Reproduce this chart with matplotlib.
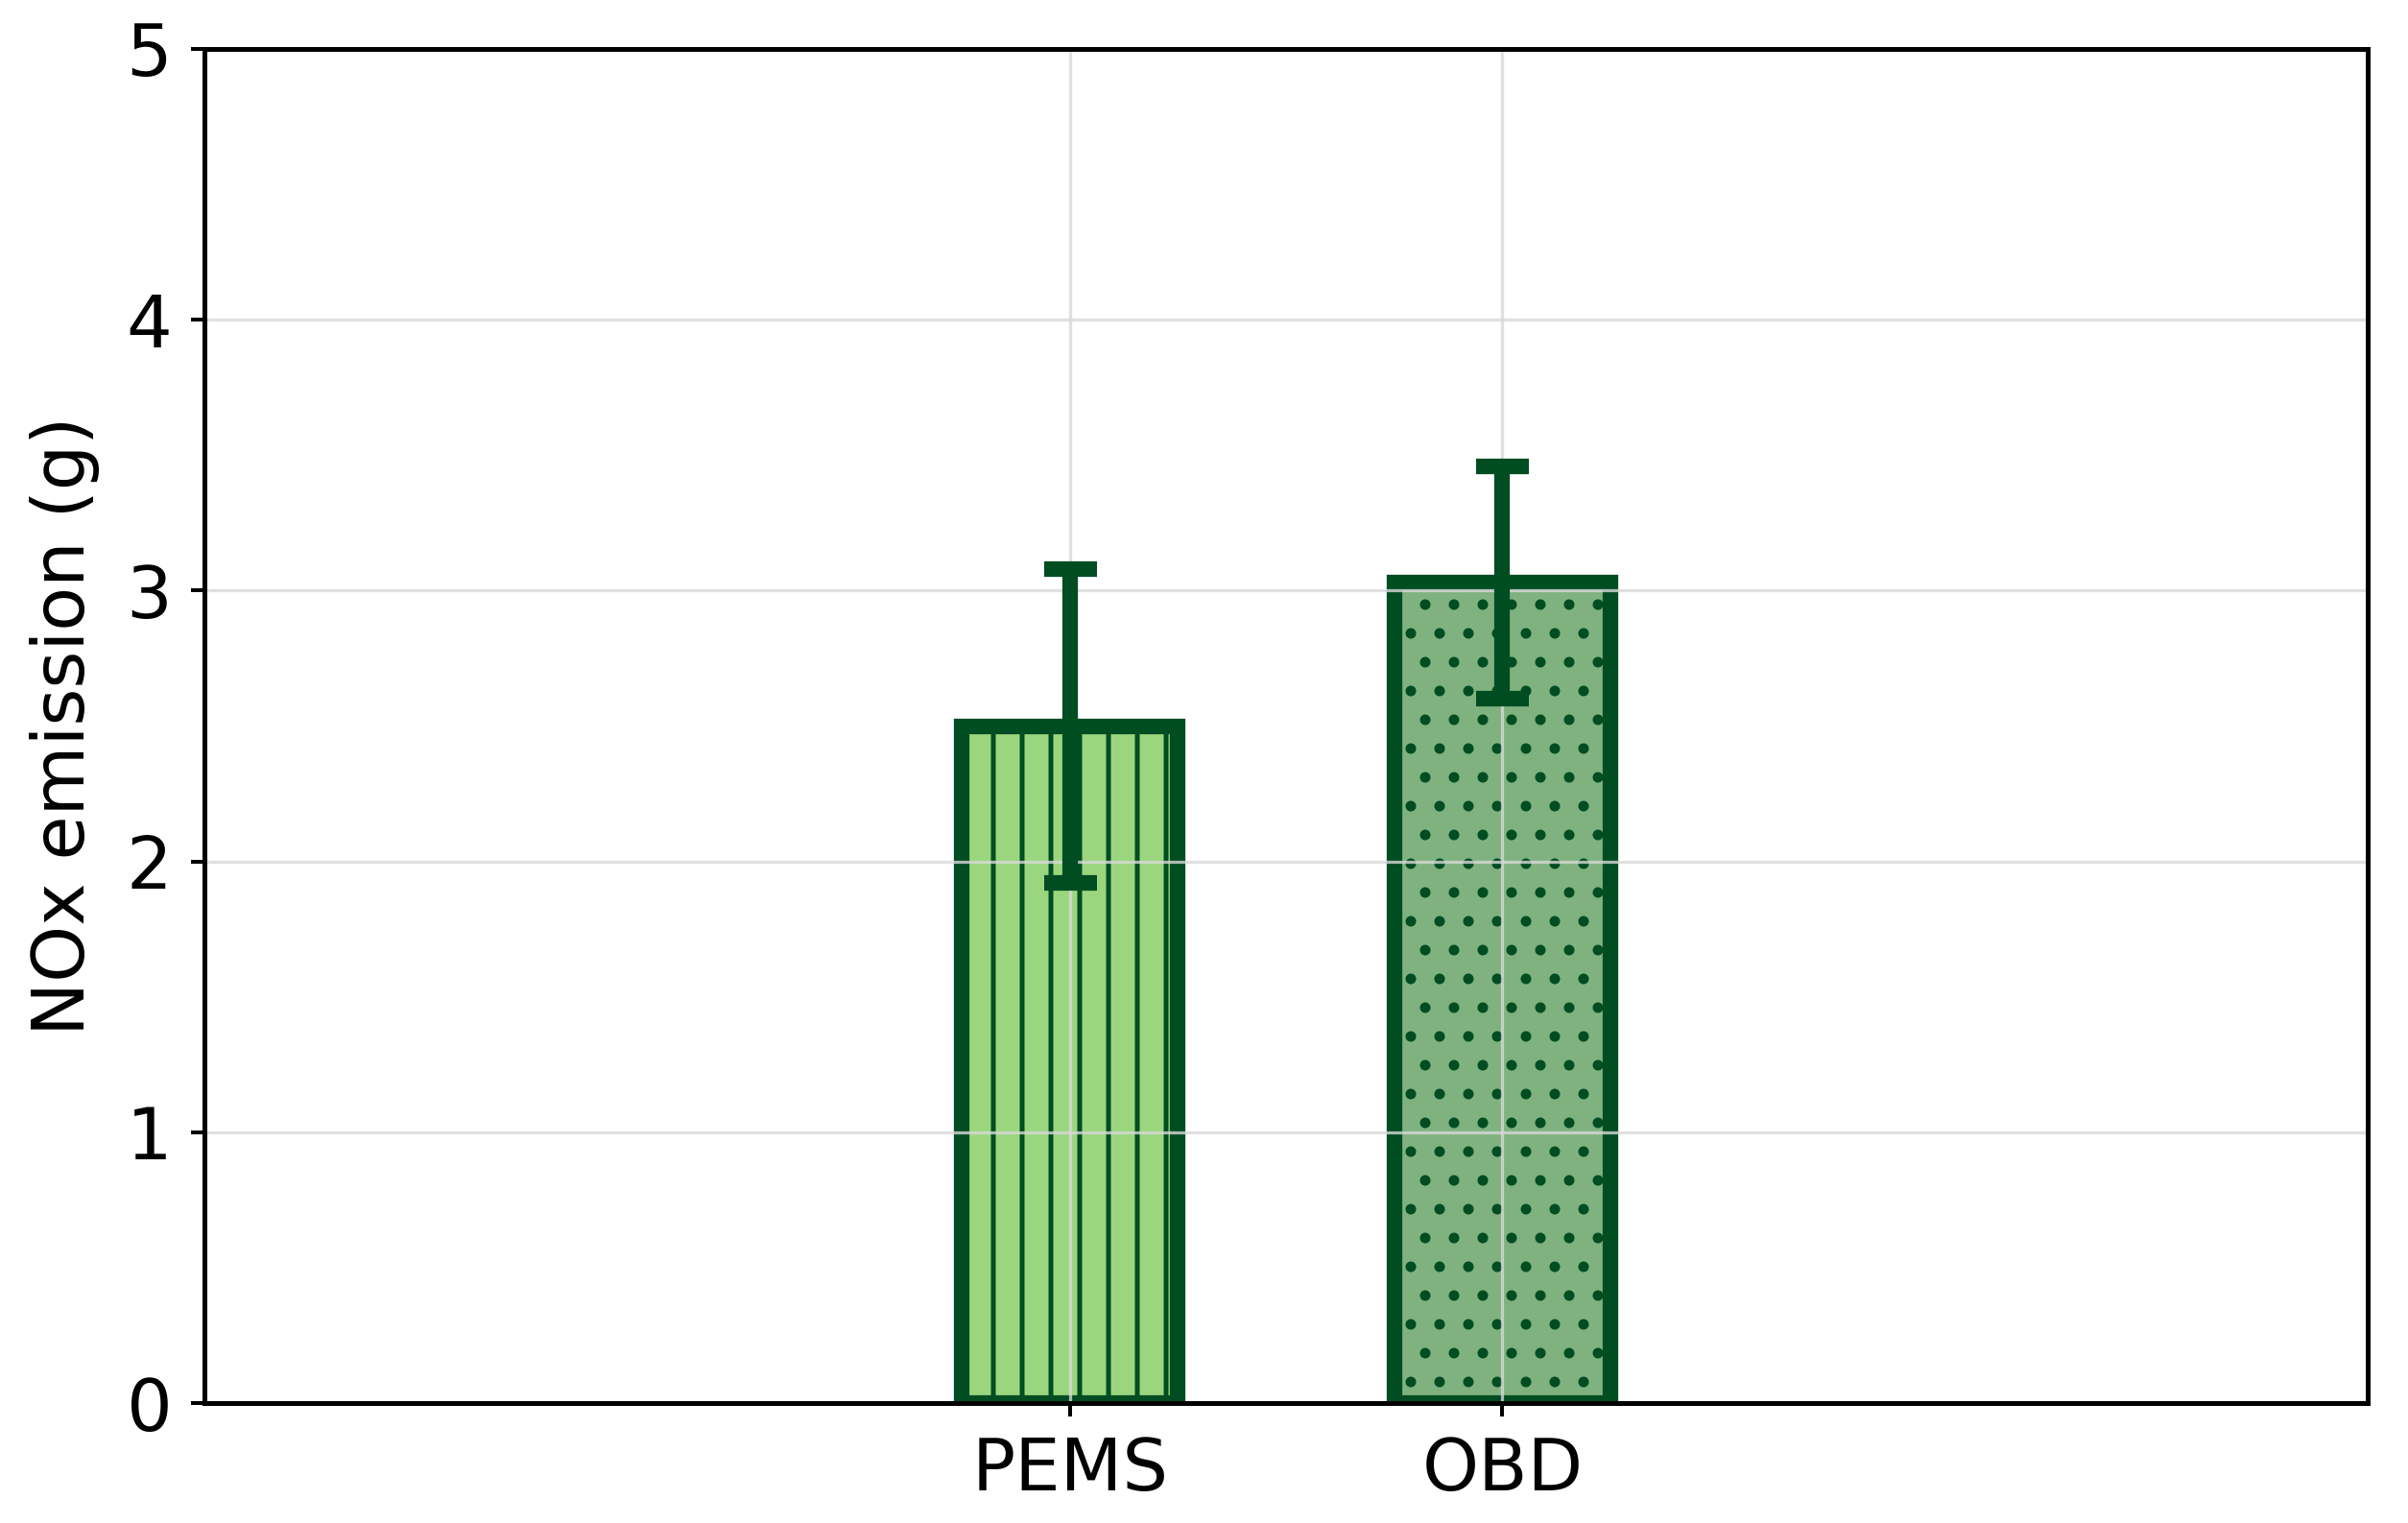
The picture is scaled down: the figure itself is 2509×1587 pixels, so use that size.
import matplotlib
matplotlib.use('Agg')
import matplotlib.pyplot as plt

# bar data (g)
categories = ['PEMS', 'OBD']
means = [2.50, 3.03]
errors = [0.58, 0.43]
fills = ['#9bd67e', '#7fb27f']
hatches = ['|', '.']
edge = '#004d22'

plt.rcParams['hatch.linewidth'] = 2.0
plt.rcParams['hatch.color'] = edge

fig = plt.figure(figsize=(2509 / 180, 1587 / 180), dpi=180)
ax = fig.add_axes([0.0849, 0.0787, 0.8984, 0.8892])

x = range(len(categories))
bars = ax.bar(x, means, width=0.5, color=fills, edgecolor=edge, linewidth=6.5)
for bar, h in zip(bars, hatches):
  bar.set_hatch(h)

ax.errorbar(x, means, yerr=errors, fmt='none', ecolor=edge,
            elinewidth=6.5, capsize=11, capthick=6.5)

ax.set_xlim(-2, 3)
ax.set_ylim(0, 5)
ax.set_xticks(list(x))
ax.set_xticklabels(categories)
ax.set_yticks([0, 1, 2, 3, 4, 5])
ax.set_ylabel('NOx emission (g)', fontsize=30, labelpad=11)
ax.tick_params(labelsize=30, length=5.5, width=1.6, pad=8)
for s in ax.spines.values():
  s.set_linewidth(2.0)
ax.grid(True, color='#d9d9d9', linewidth=1.3, alpha=0.8)

fig.savefig('out.png', dpi=180)
